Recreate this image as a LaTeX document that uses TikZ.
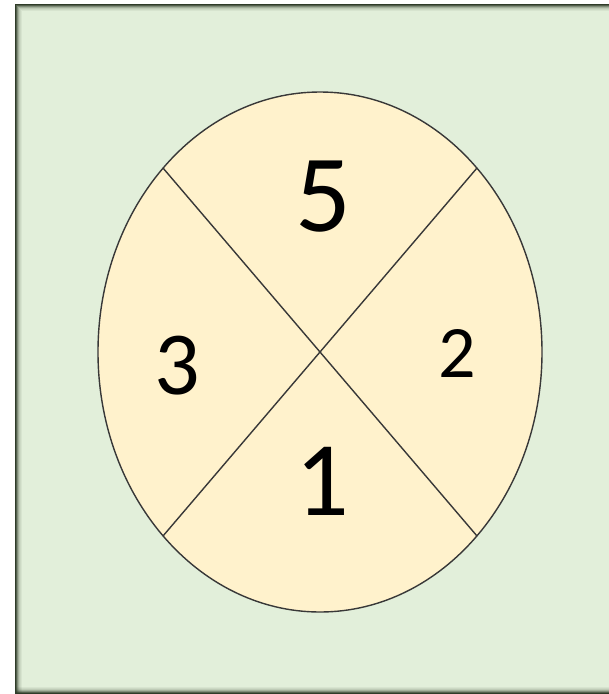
\documentclass[tikz,border=0pt]{standalone}
\usepackage{fontspec}
\setmainfont{Carlito}
\usetikzlibrary{shapes.geometric}
\definecolor{bgfill}{HTML}{E2EFDA}
\definecolor{framec}{HTML}{2E3B28}
\definecolor{ovalfill}{HTML}{FFF2CC}
\definecolor{ovalline}{HTML}{383838}
\begin{document}
\begin{tikzpicture}[x=1pt,y=-1pt,
  digit/.style={inner sep=0pt,font=#1},
  divider/.style={draw=ovalline,line width=1.4pt}]
\useasboundingbox (0,0) rectangle (609,694);
\fill[white] (0,0) rectangle (609,694);
% frame with soft inner shadow
\fill[bgfill] (15,4) rectangle (615,700);
\foreach \i/\o in {0/1,1/0.8,2/0.55,3/0.35,4/0.2,5/0.12,6/0.06}{
  \draw[framec,opacity=\o,line width=1pt] (15.5+\i,700) -- (15.5+\i,4.5+\i) -- (615,4.5+\i);
  \draw[framec,opacity=\o,line width=1pt] (15,693.5-\i) -- (615,693.5-\i);
}
% oval
\node (oval) [draw=ovalline,fill=ovalfill,line width=1.4pt,ellipse,minimum width=444pt,minimum height=520pt,inner sep=0pt] at (320,352) {};
\coordinate (tl) at (163,168);
\coordinate (tr) at (477,168);
\coordinate (bl) at (163,536);
\coordinate (br) at (477,536);
\draw[divider] (tl) -- (br);
\draw[divider] (tr) -- (bl);
% labels
\node (n5) [digit={\fontsize{110}{110}\selectfont}] at (323,197) {5};
\node (n3) [digit={\fontsize{90}{90}\selectfont}] at (177,366) {3};
\node (n2) [digit={\fontsize{74}{74}\selectfont}] at (457,353) {2};
\node (n1) [digit={\fontsize{106}{106}\selectfont}] at (322,481) {1};
\end{tikzpicture}
\end{document}
